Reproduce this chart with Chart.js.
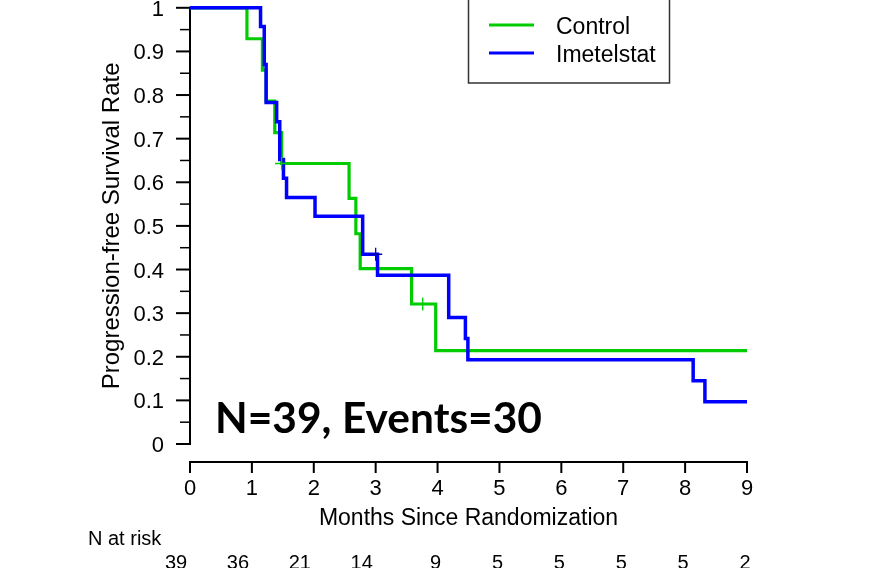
<!DOCTYPE html>
<html><head><meta charset="utf-8">
<script src="https://cdn.jsdelivr.net/npm/chart.js@4"></script>
<style>html,body{margin:0;padding:0;background:#fff;overflow:hidden}canvas{display:block}</style>
</head><body>
<canvas id="c" width="877" height="568"></canvas>
<script>
// ---- data ----
const controlTimes = [0, 0.92, 1.17, 1.23, 1.37, 1.48, 2.57, 2.68, 2.75, 3.58, 3.97, 9];
const controlSurv  = [1, 0.929, 0.857, 0.786, 0.714, 0.643, 0.563, 0.482, 0.402, 0.321, 0.214, 0.214];
const imetTimes = [0, 1.14, 1.20, 1.23, 1.40, 1.45, 1.51, 1.56, 2.02, 2.79, 3.03, 4.18, 4.45, 4.49, 8.13, 8.32, 9];
const imetSurv  = [1, 0.957, 0.870, 0.783, 0.739, 0.652, 0.609, 0.565, 0.522, 0.435, 0.387, 0.290, 0.242, 0.193, 0.145, 0.097, 0.097];
const controlCensorTimes = [1.48, 3.76];
const controlCensorSurv  = [0.643, 0.321];
const imetCensorTimes = [3.00];
const imetCensorSurv  = [0.435];
const seriesNames = ['Control', 'Imetelstat'];
const xTickValues = [0,1,2,3,4,5,6,7,8,9];
const xTickLabels = ['0','1','2','3','4','5','6','7','8','9'];
const yTickValues = [0,0.1,0.2,0.3,0.4,0.5,0.6,0.7,0.8,0.9,1];
const yTickLabels = ['0','0.1','0.2','0.3','0.4','0.5','0.6','0.7','0.8','0.9','1'];
const yMinorValues = [0.05,0.15,0.25,0.35,0.45,0.55,0.65,0.75,0.85,0.95];
const riskTimes  = [0,1,2,3,4,5,6,7,8,9];
const riskCounts = ['39','36','21','14','9','5','5','5','5','2'];
const xTitle = 'Months Since Randomization';
const yTitle = 'Progression-free Survival Rate';
const riskTitle = 'N at risk';
const annotationText = 'N=39, Events=30';

const GREEN = '#00cc00', BLUE = '#0000ff';
const FONT = '"Liberation Sans", Arial, sans-serif';
const pts = (t, s) => t.map((v, i) => ({x: v, y: s[i]}));

const kmPlugin = {
  id: 'kmAxes',
  beforeDatasetsDraw(chart) {
    const ctx = chart.ctx, xs = chart.scales.x, ys = chart.scales.y;
    const y0 = ys.getPixelForValue(0), y1 = ys.getPixelForValue(1);
    const xL = xs.getPixelForValue(0), xR = xs.getPixelForValue(9);
    const xAxisY = y0 + 18;
    ctx.save();
    ctx.strokeStyle = '#000'; ctx.fillStyle = '#000'; ctx.lineWidth = 2;
    // y axis
    ctx.beginPath(); ctx.moveTo(xL, y0 + 1); ctx.lineTo(xL, y1 - 1); ctx.stroke();
    yTickValues.forEach(v => { const p = ys.getPixelForValue(v); ctx.beginPath(); ctx.moveTo(xL - 14, p); ctx.lineTo(xL, p); ctx.stroke(); });
    ctx.lineWidth = 1.5;
    yMinorValues.forEach(v => { const p = ys.getPixelForValue(v); ctx.beginPath(); ctx.moveTo(xL - 10, p); ctx.lineTo(xL, p); ctx.stroke(); });
    ctx.font = '22px ' + FONT; ctx.textAlign = 'right'; ctx.textBaseline = 'middle';
    yTickValues.forEach((v, i) => ctx.fillText(yTickLabels[i], xL - 26, ys.getPixelForValue(v) + 2));
    // x axis
    ctx.lineWidth = 2;
    ctx.beginPath(); ctx.moveTo(xL - 1, xAxisY); ctx.lineTo(xR + 1, xAxisY); ctx.stroke();
    xTickValues.forEach(v => { const p = xs.getPixelForValue(v); ctx.beginPath(); ctx.moveTo(p, xAxisY); ctx.lineTo(p, xAxisY + 11); ctx.stroke(); });
    ctx.textAlign = 'center';
    xTickValues.forEach((v, i) => ctx.fillText(xTickLabels[i], xs.getPixelForValue(v), xAxisY + 27));
    // titles
    ctx.font = '23px ' + FONT;
    ctx.fillText(xTitle, (xL + xR) / 2, xAxisY + 57);
    ctx.save();
    ctx.translate(xL - 78, (y0 + y1) / 2); ctx.rotate(-Math.PI / 2);
    ctx.font = '24px ' + FONT; ctx.fillText(yTitle, 0, 0);
    ctx.restore();
    ctx.restore();
  },
  afterDraw(chart) {
    const ctx = chart.ctx, xs = chart.scales.x, ys = chart.scales.y;
    const y0 = ys.getPixelForValue(0);
    const xL = xs.getPixelForValue(0);
    ctx.save();
    // annotation
    ctx.fillStyle = '#000';
    ctx.font = 'bold 42px Lato, "Open Sans", sans-serif';
    ctx.textAlign = 'left'; ctx.textBaseline = 'alphabetic';
    const w = ctx.measureText(annotationText).width;
    ctx.save();
    ctx.translate(xL + 25, y0 - 11);
    ctx.scale(327 / w, 1);
    ctx.fillText(annotationText, 0, 0);
    ctx.restore();
    // legend
    ctx.strokeStyle = '#333'; ctx.lineWidth = 1.5;
    ctx.strokeRect(468.5, -5, 201, 88);
    ctx.lineWidth = 3;
    [GREEN, BLUE].forEach((c, i) => {
      ctx.strokeStyle = c; ctx.beginPath(); ctx.moveTo(489, 25 + i * 28); ctx.lineTo(534, 25 + i * 28); ctx.stroke();
    });
    ctx.font = '23px ' + FONT; ctx.textBaseline = 'middle';
    seriesNames.forEach((n, i) => ctx.fillText(n, 556, 28 + i * 28));
    // risk table
    ctx.font = '20px ' + FONT;
    ctx.textAlign = 'left';
    ctx.fillText(riskTitle, 88, 539);
    ctx.textAlign = 'center';
    riskTimes.forEach((t, i) => {
      const off = riskCounts[i].length > 1 ? -14 : -2;
      ctx.fillText(riskCounts[i], xs.getPixelForValue(t) + off, 563);
    });
    ctx.restore();
  }
};

new Chart(document.getElementById('c'), {
  type: 'scatter',
  data: {
    datasets: [
      { label: 'ImetCensor', data: pts(imetCensorTimes, imetCensorSurv), showLine: false, pointStyle: 'cross', pointRadius: 6.5, borderColor: '#0000b0', borderWidth: 1.3, clip: false },
      { label: 'ControlCensor', data: pts(controlCensorTimes, controlCensorSurv), showLine: false, pointStyle: 'cross', pointRadius: 6.5, borderColor: GREEN, borderWidth: 1.3, clip: false },
      { label: seriesNames[1], data: pts(imetTimes, imetSurv), showLine: true, stepped: 'before', borderColor: BLUE, borderWidth: 3.5, pointRadius: 0, fill: false, clip: false, borderJoinStyle: 'miter', borderCapStyle: 'butt' },
      { label: seriesNames[0], data: pts(controlTimes, controlSurv), showLine: true, stepped: 'before', borderColor: GREEN, borderWidth: 3.2, pointRadius: 0, fill: false, clip: false, borderJoinStyle: 'miter', borderCapStyle: 'butt' }
    ]
  },
  options: {
    responsive: false, animation: false, devicePixelRatio: 1,
    layout: { padding: { left: 190, right: 130, top: 5, bottom: 124 } },
    plugins: { legend: { display: false }, tooltip: { enabled: false } },
    scales: {
      x: { type: 'linear', min: 0, max: 9, display: false },
      y: { type: 'linear', min: 0, max: 1, display: false }
    }
  },
  plugins: [kmPlugin]
});
</script>
</body></html>
